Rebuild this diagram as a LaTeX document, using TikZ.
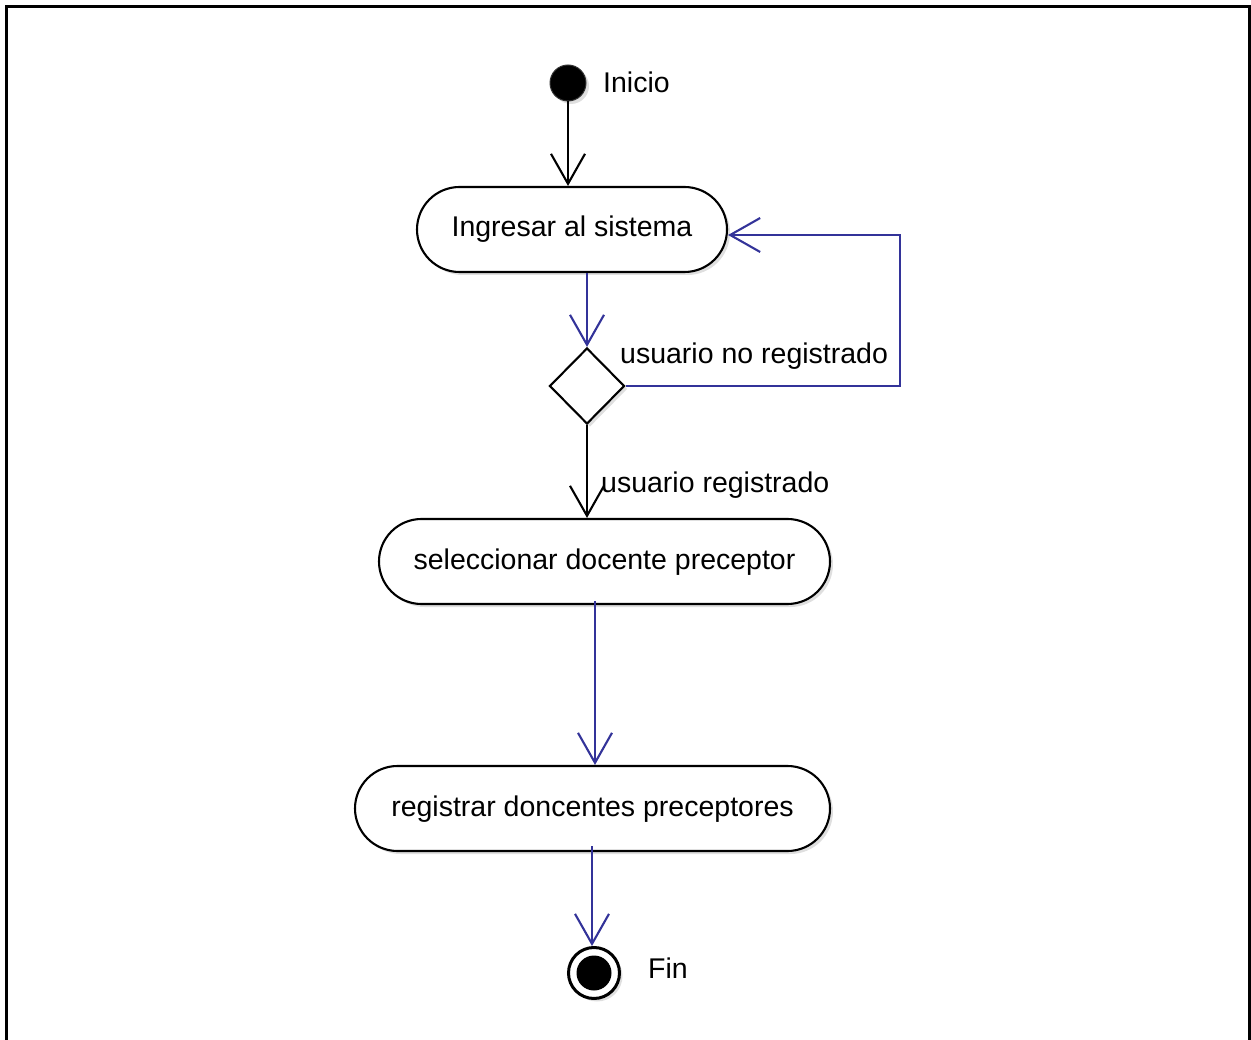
\documentclass[tikz,border=0pt]{standalone}
\usepackage{fontspec}
\setmainfont{Liberation Sans}
\usetikzlibrary{arrows.meta,shapes.geometric,shapes.misc,shadows,calc}
\definecolor{flowblue}{RGB}{51,51,153}
\begin{document}
\begin{tikzpicture}[x=1pt,y=-1pt,
  every node/.style={font=\fontsize{28.5}{34}\selectfont},
  softshadow/.style={drop shadow={opacity=0.25,shadow xshift=3pt,shadow yshift=-3pt}},
  action/.style={rounded rectangle,draw=black,line width=2.1pt,fill=white,
    minimum height=85pt,inner sep=0pt,text height=21pt,text depth=6pt,softshadow},
  decision/.style={diamond,draw=black,line width=2.1pt,fill=white,
    minimum width=75pt,minimum height=76pt,inner sep=0pt,softshadow},
  initial/.style={circle,fill=black,draw=black!80,line width=1pt,minimum size=36pt,inner sep=0pt,softshadow},
  finalring/.style={circle,draw=black,line width=3pt,fill=white,minimum size=51pt,inner sep=0pt,softshadow},
  finaldot/.style={circle,fill=black,minimum size=35pt,inner sep=0pt},
  vtip/.style={-{Straight Barb[length=30pt,width=34pt]}},
  flowblack/.style={draw=black,line width=2.1pt,vtip},
  flowb/.style={draw=flowblue,line width=2.1pt,vtip},
  caption/.style={anchor=base west,inner sep=0pt}]

\useasboundingbox (0,0) rectangle (1251,1040);
% frame (open at the bottom)
\draw[line width=3pt] (6,1040) -- (6,7) -- (1249,7) -- (1249,1040);

% nodes
\node[initial] (start) at (568,83) {};
\node[caption] (inicio) at (603,93) {Inicio};

\node[action,minimum width=310pt] (a1) at (572,229.5) {Ingresar al sistema};
\node[decision] (d) at (587,386) {};
\node[action,minimum width=451pt] (a2) at (604.5,561.5) {seleccionar docente preceptor};
\node[action,minimum width=475pt] (a3) at (592.5,808.5) {registrar doncentes preceptores};

\node[finalring] (fin) at (594,973) {};
\node[finaldot] (findot) at (fin.center) {};
\node[caption] (finlbl) at (648,978) {Fin};

% helper coordinates for the connector routes
\coordinate (loopc) at (900,235);
\coordinate (col) at (595,0);

% connectors
\draw[flowblack] (start.south) -- (start.south |- a1.north);
\draw[flowb] (d.north |- a1.south) -- (d.north);
\draw[flowb] (d.east) -| (loopc) -- (a1.east |- loopc);
\node[caption] (lno) at (620,364) {usuario no registrado};
\draw[flowblack] (d.south) -- (d.south |- a2.north);
\node[caption] (lyes) at (601,493) {usuario registrado};
\draw[flowb] ($(a2.south -| col)+(0,-4)$) -- (a3.north -| col);
\draw[flowb] ($(a3.south -| fin.north)+(-2,-6)$) -- ($(fin.north)+(-2,0)$);
\end{tikzpicture}
\end{document}
